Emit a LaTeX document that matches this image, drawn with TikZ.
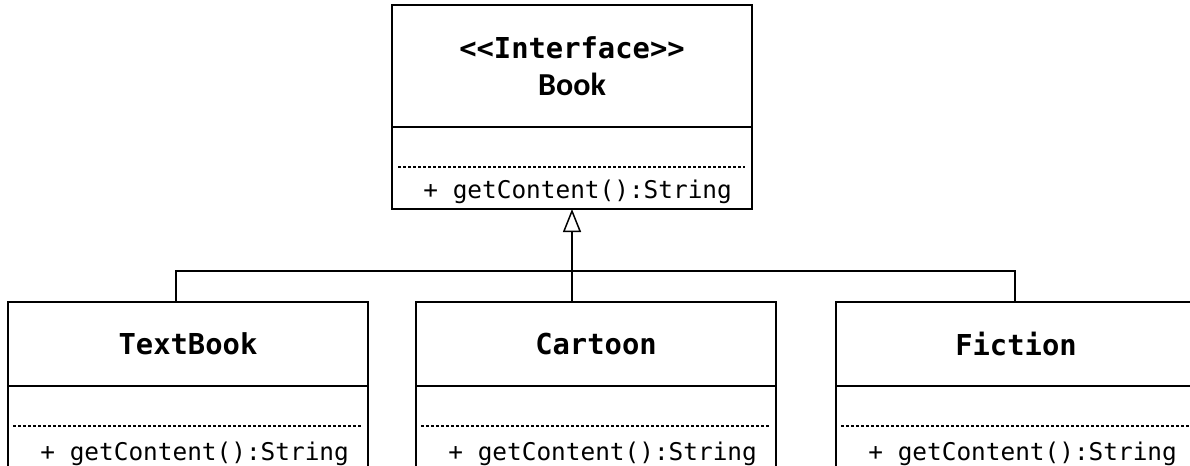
\documentclass[tikz,border=0pt]{standalone}
\usepackage{fontspec}
\setmonofont{DejaVu Sans Mono}
\newfontfamily\bookfont{Carlito}
\usepackage{tikz}
\usetikzlibrary{arrows.meta, positioning}
\tikzset{
	x = .5pt,
	y = -.5pt,
	classhead/.style={
		draw,
		line width=1pt,
		outer sep=0pt,
		inner sep=0pt,
		minimum width=180pt,
		minimum height=42pt,
		align=center,
		font=\fontsize{14.4}{18.5}\selectfont\ttfamily\bfseries
	},
	classbody/.style={
		draw,
		line width=1pt,
		outer sep=0pt,
		minimum width=180pt,
		minimum height=60pt
	},
	opsep/.style={
		line width=.7pt,
		dash pattern=on 1.5pt off 1pt
	},
	method/.style={
		inner sep=0pt,
		anchor=base west,
		font=\fontsize{12.2}{14}\selectfont\ttfamily
	},
	link/.style={
		line width=.75pt
	},
	realize/.style={
		->,
		>={Triangle[open, length=11.5pt, width=9pt]},
		line width=.75pt
	}
}

\begin{document}
\begin{tikzpicture}
% ---
% page
% ---
\clip (0,0) rectangle (1190,466);
\fill[white] (0,0) rectangle (1190,466);

% ---
% interface
% ---
\node[classhead, minimum height=61pt] at (572,66) (book-head) {<<Interface>>\\{\bookfont\fontsize{16}{18.5}\selectfont\bfseries Book}};
\node[classbody, minimum height=41pt, below=0pt of book-head] (book-body) {};
\draw[opsep] ([xshift=3pt, yshift=-20pt]book-body.north west) -- ([xshift=-3.5pt, yshift=-20pt]book-body.north east);
\node[method] at ([xshift=15.5pt, yshift=-35.5pt]book-body.north west) (book-op) {+ getContent():String};

% ---
% classes
% ---
\node[classhead] at (188,344) (textbook-head) {TextBook};
\node[classhead, right=24pt of textbook-head] (cartoon-head) {Cartoon};
\node[classhead, right=30pt of cartoon-head] (fiction-head) {Fiction};

\foreach \c in {textbook, cartoon, fiction} {
	\node[classbody, below=0pt of \c-head] (\c-body) {};
	\draw[opsep] ([xshift=2.5pt, yshift=-20pt]\c-body.north west) -- ([xshift=-3pt, yshift=-20pt]\c-body.north east);
	\node[method] at ([xshift=16pt, yshift=-37pt]\c-body.north west) (\c-op) {+ getContent():String};
}

% ---
% realization
% ---
\coordinate (bus-l) at (176,271);
\coordinate (bus-r) at (1015,271);

\draw[realize] (cartoon-head.north -| book-body.south) -- (book-body.south);
\draw[link] (textbook-head.north -| bus-l) -- (bus-l) -- (bus-r) -- (fiction-head.north -| bus-r);
\end{tikzpicture}
\end{document}
